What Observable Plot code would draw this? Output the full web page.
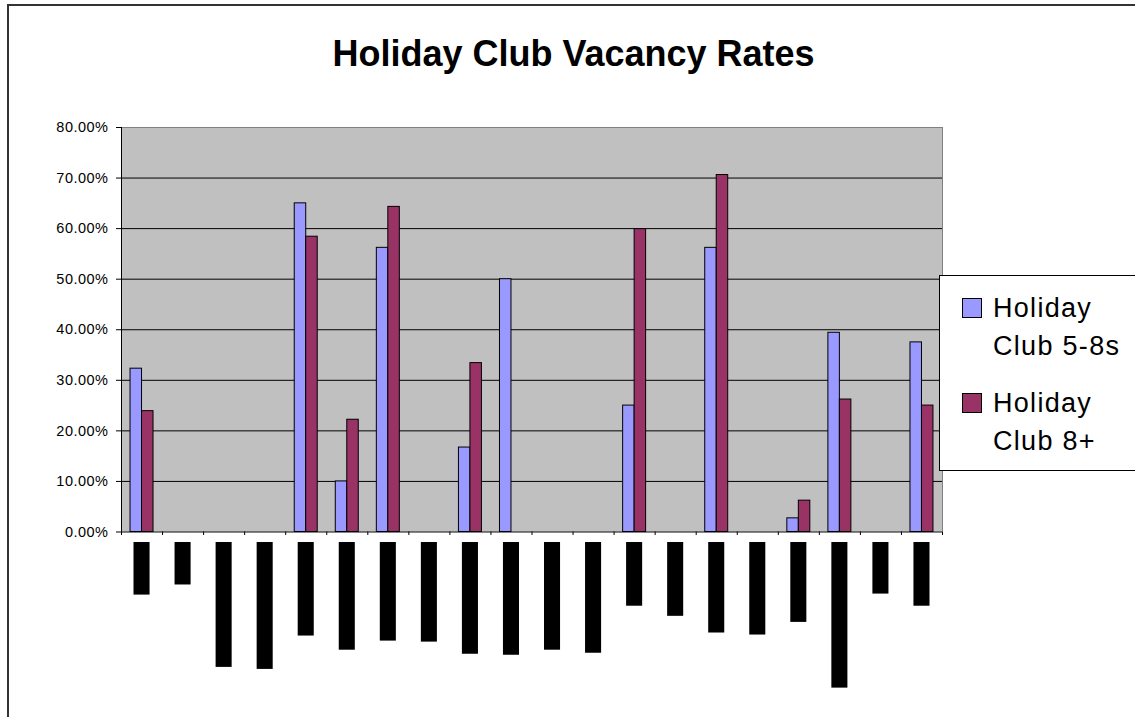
<!DOCTYPE html>
<html>
<head>
<meta charset="utf-8">
<script src="https://cdn.jsdelivr.net/npm/d3@7"></script>
<script src="https://cdn.jsdelivr.net/npm/@observablehq/plot@0.6"></script>
<style>
  html, body { margin: 0; padding: 0; background: #fff; }
  body { width: 1135px; height: 717px; overflow: hidden; position: relative; font-family: "Liberation Sans", Arial, sans-serif; color: #000; }
  #chart { position: absolute; left: 0; top: 0; }
  #chart svg { background: transparent; }
  #title { position: absolute; left: 0; top: 35.5px; width: 1147px; text-align: center; font-weight: bold; font-size: 36px; line-height: 36px; white-space: nowrap; }
  #border { position: absolute; left: 7px; top: 4px; width: 1200px; height: 800px; border-left: 2px solid #333; border-top: 2px solid #333; pointer-events: none; }
  #legend { position: absolute; left: 939px; top: 275px; width: 230px; height: 194px; background: #fff; border: 1px solid #000; }
  .sw { position: absolute; left: 22px; width: 18px; height: 18px; border: 1px solid #000; }
  .lt { position: absolute; left: 53px; font-size: 27px; line-height: 38px; letter-spacing: 1.3px; white-space: nowrap; }
</style>
</head>
<body>
<div id="chart"></div>
<div id="title"></div>
<div id="legend"></div>
<div id="border"></div>
<script>
// ---- data ----
const title = "Holiday Club Vacancy Rates";
const seriesNames = ["Holiday Club 5-8s", "Holiday Club 8+"];
const seriesColors = ["#9999ff", "#993366"];
const categories = ["1","2","3","4","5","6","7","8","9","10","11","12","13","14","15","16","17","18","19","20"];
const club58 = [32.3, 0, 0, 0, 65.0, 10.0, 56.2, 0, 16.7, 50.0, 0, 0, 25.0, 0, 56.2, 0, 2.7, 39.4, 0, 37.5];
const club8plus = [23.9, 0, 0, 0, 58.4, 22.2, 64.3, 0, 33.4, 0, 0, 0, 59.9, 0, 70.6, 0, 6.2, 26.2, 0, 25.0];
// extent of the (blacked-out) rotated category labels, in the value axis units
const labelExtent = [10.4, 8.4, 24.7, 25.1, 18.5, 21.3, 19.5, 19.7, 22.1, 22.3, 21.3, 21.9, 12.6, 14.6, 17.9, 18.3, 15.8, 28.8, 10.2, 12.6];
const yTicks = [0, 10, 20, 30, 40, 50, 60, 70, 80];

// ---- build ----
const n = categories.length;
const bw = 0.28;          // bar width in category units
const labelGap = 2.08;    // gap between axis and label block
const rows1 = categories.map((c, i) => ({i: i + 1, v: club58[i]})).filter(d => d.v > 0);
const rows2 = categories.map((c, i) => ({i: i + 1, v: club8plus[i]})).filter(d => d.v > 0);
const labels = categories.map((c, i) => ({i: i + 1, e: labelExtent[i]}));
const bounds = d3.range(0, n + 1).map(k => k + 0.5);

const chart = Plot.plot({
  width: 1135,
  height: 717,
  marginLeft: 121,
  marginRight: 193,
  marginTop: 127,
  marginBottom: 0,
  style: {fontFamily: "'Liberation Sans', Arial, sans-serif", fontSize: "14.5px", color: "#000", background: "transparent", letterSpacing: "0.5px", overflow: "visible"},
  x: {domain: [0.5, n + 0.5], axis: null},
  y: {domain: [-36.69, 80], ticks: yTicks, tickFormat: d => d.toFixed(2) + "%", tickSize: 5, tickPadding: 8, label: null},
  marks: [
    Plot.rect([0], {x1: () => 0.5, x2: () => n + 0.5, y1: () => 0, y2: () => 80, fill: "#c0c0c0"}),
    Plot.ruleY(yTicks.filter(t => t > 0 && t < 80), {stroke: "#000", strokeWidth: 1}),
    Plot.ruleY([80], {stroke: "#808080"}),
    Plot.ruleX([n + 0.5], {y1: 0, y2: 80, stroke: "#808080"}),
    Plot.rectY(rows1, {x1: d => d.i - bw, x2: d => d.i, y1: () => 0, y2: "v", fill: seriesColors[0], stroke: "#000", strokeWidth: 1}),
    Plot.rectY(rows2, {x1: d => d.i, x2: d => d.i + bw, y1: () => 0, y2: "v", fill: seriesColors[1], stroke: "#000", strokeWidth: 1}),
    Plot.ruleY([0], {stroke: "#000"}),
    Plot.ruleX([0.5], {y1: 0, y2: 80, stroke: "#000"}),
    Plot.ruleX(bounds, {y1: 0, y2: -0.7, stroke: "#000"}),
    Plot.rect(labels, {x1: d => d.i - 0.5, x2: d => d.i + 0.5, insetLeft: 12.5, insetRight: 12.5, y1: () => -labelGap, y2: d => -labelGap - d.e, fill: "#000"})
  ]
});
document.getElementById("chart").appendChild(chart);
document.getElementById("title").textContent = title;

// ---- legend ----
const legend = document.getElementById("legend");
const itemTops = [0, 95.4];
seriesNames.forEach((name, k) => {
  const sw = document.createElement("div");
  sw.className = "sw";
  sw.style.top = (21.7 + itemTops[k]) + "px";
  sw.style.background = seriesColors[k];
  legend.appendChild(sw);
  const words = name.split(" ");
  const lines = [words[0], words.slice(1).join(" ")];
  lines.forEach((ln, j) => {
    const t = document.createElement("div");
    t.className = "lt";
    t.style.top = (12.8 + itemTops[k] + j * 38) + "px";
    t.textContent = ln;
    legend.appendChild(t);
  });
});
</script>
</body>
</html>
